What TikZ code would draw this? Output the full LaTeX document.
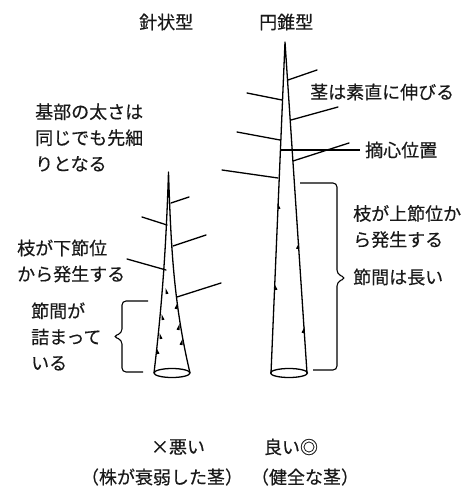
\documentclass[tikz,border=0pt]{standalone}
\usepackage{fontspec}
\newfontfamily\jpfont[FakeBold=0.4]{Noto Sans CJK JP}
\begin{document}
\begin{tikzpicture}[x=1pt,y=-1pt,
  stem/.style={line width=1.3pt, line join=round},
  branch/.style={line width=1.3pt, line cap=round},
  brace/.style={line width=1.1pt, rounded corners=4pt},
  lbl/.style={font=\jpfont\fontsize{18}{26}\selectfont, inner sep=0pt, align=left, text=black!90},
  thornL/.pic={\fill (0,-4) -- (3,1.6) -- (0,2.2) -- cycle;},
  thornR/.pic={\fill (0,-4) -- (-3,1.6) -- (0,2.2) -- cycle;}]
\useasboundingbox (0,0) rectangle (475,487);

% headings
\node[lbl, anchor=west] (needle) at (139,22) {針状型};
\node[lbl, anchor=west] (cone) at (259,22) {円錐型};

% needle-shaped stem
\draw[stem] (172,373) ellipse [x radius=18, y radius=4.5];
\draw[stem] (154,373) .. controls (162,305) and (166,250) .. (168.5,172)
                     .. controls (171,250) and (174,305) .. (190,373);
\draw[branch] (171,203) -- (189,197);
\draw[branch] (167,225) -- (142,217);
\draw[branch] (173,246) -- (206,235);
\draw[branch] (166,270) -- (127,259);
\draw[branch] (177,297) -- (221,283);
\foreach \p in {(165.5,292),(161.5,318),(159.5,337),(156.5,352)} \pic at \p {thornL};
\foreach \p in {(177.5,307),(179.5,328),(182.5,343)} \pic at \p {thornR};

% conical stem
\draw[stem] (289,373) ellipse [x radius=18.5, y radius=4.5];
\draw[stem] (271,373) -- (285,42) -- (307,373);
\draw[branch] (288,80) -- (317,70);
\draw[branch] (282,100) -- (247,93);
\draw[branch] (291,120) -- (338,107);
\draw[branch] (280,140) -- (237,132);
\draw[branch] (293,161) -- (349,143);
\draw[branch] (278,178) -- (222,170);
\foreach \p in {(277.5,207),(274.5,288)} \pic at \p {thornL};
\foreach \p in {(299,247),(304.5,331)} \pic at \p {thornR};

% labels on the left
\node[lbl, anchor=west] (taper) at (35,137.5) {基部の太さは\\同じでも先細\\りとなる};
\node[lbl, anchor=west] (lowbr) at (17,261) {枝が下節位\\から発生する};
\node[lbl, anchor=west] (short) at (31,336.5) {節間が\\詰まって\\いる};
\draw[brace] (148,301) -- (122,301) -- (122,333) -- (113,336.5) -- (122,340) -- (122,372) -- (143,372);

% labels on the right
\node[lbl, anchor=west] (straight) at (310,92) {茎は素直に伸びる};
\node[lbl, anchor=west] (pinch) at (365,150) {摘心位置};
\coordinate (pinchstart) at (281,150);
\draw[line width=1.1pt, shorten >=5pt] (pinchstart) -- (pinch.west);
\node[lbl, anchor=west] (upbr) at (353,226.5) {枝が上節位か\\ら発生する};
\node[lbl, anchor=west] (long) at (353,277) {節間は長い};
\draw[brace] (300,183) -- (337,183) -- (337,274) -- (346,278) -- (337,282) -- (337,370) -- (313,370);

% verdicts
\node[lbl] (bad) at (178,447) {×悪い};
\node[lbl] (good) at (291,447) {良い◎};
\node[lbl] (badnote) at (162,477) {（株が衰弱した茎）};
\node[lbl] (goodnote) at (305,477) {（健全な茎）};
\end{tikzpicture}
\end{document}
